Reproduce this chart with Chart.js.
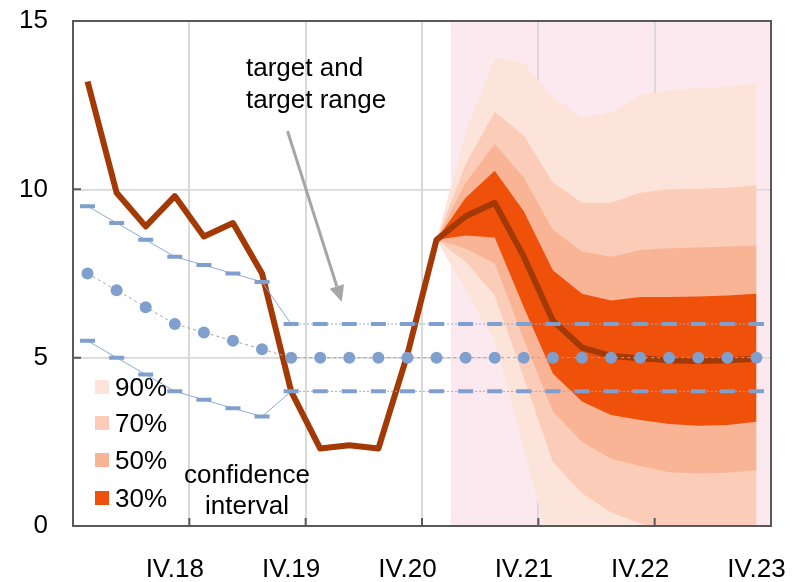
<!DOCTYPE html>
<html>
<head>
<meta charset="utf-8">
<script src="https://cdn.jsdelivr.net/npm/chart.js@4.4.1/dist/chart.umd.min.js"></script>
<style>
  html, body { margin: 0; padding: 0; background: #fff; }
  #wrap { width: 794px; height: 582px; }
</style>
</head>
<body>
<div id="wrap"><canvas id="chart"></canvas></div>
<script>
const quarters = ['I.18', 'II.18', 'III.18', 'IV.18', 'I.19', 'II.19', 'III.19', 'IV.19',
  'I.20', 'II.20', 'III.20', 'IV.20', 'I.21', 'II.21', 'III.21', 'IV.21',
  'I.22', 'II.22', 'III.22', 'IV.22', 'I.23', 'II.23', 'III.23', 'IV.23'];

const inflation = [13.2, 9.9, 8.9, 9.8, 8.6, 9.0, 7.5, 4.0, 2.3, 2.4, 2.3, 5.1,
  8.5, 9.2, 9.6, 8.0, 6.1, 5.3, 5.05, 4.98, 4.92, 4.9, 4.92, 4.97];

const targetUpper = [9.5, 9.0, 8.5, 8.0, 7.75, 7.5, 7.25, 6, 6, 6, 6, 6, 6, 6, 6, 6, 6, 6, 6, 6, 6, 6, 6, 6];
const targetMid = [7.5, 7.0, 6.5, 6.0, 5.75, 5.5, 5.25, 5, 5, 5, 5, 5, 5, 5, 5, 5, 5, 5, 5, 5, 5, 5, 5, 5];
const targetLower = [5.5, 5.0, 4.5, 4.0, 3.75, 3.5, 3.25, 4, 4, 4, 4, 4, 4, 4, 4, 4, 4, 4, 4, 4, 4, 4, 4, 4];

const N = null;
const upper90 = [N, N, N, N, N, N, N, N, N, N, N, N, 8.5, 11.7, 13.9, 13.75, 12.75, 12.15, 12.3, 12.8, 12.95, 13.0, 13.05, 13.15];
const upper70 = [N, N, N, N, N, N, N, N, N, N, N, N, 8.5, 10.75, 12.3, 11.6, 10.2, 9.6, 9.6, 9.9, 10.0, 10.02, 10.05, 10.12];
const upper50 = [N, N, N, N, N, N, N, N, N, N, N, N, 8.5, 10.2, 11.35, 10.35, 8.8, 8.15, 8.0, 8.2, 8.25, 8.27, 8.3, 8.33];
const upper30 = [N, N, N, N, N, N, N, N, N, N, N, N, 8.5, 9.75, 10.55, 9.35, 7.6, 6.9, 6.7, 6.8, 6.8, 6.82, 6.85, 6.9];
const lower30 = [N, N, N, N, N, N, N, N, N, N, N, N, 8.5, 8.63, 8.57, 6.5, 4.53, 3.7, 3.3, 3.15, 3.03, 2.98, 3.0, 3.1];
const lower50 = [N, N, N, N, N, N, N, N, N, N, N, N, 8.5, 8.24, 7.8, 5.55, 3.4, 2.5, 2.0, 1.78, 1.6, 1.56, 1.58, 1.66];
const lower70 = [N, N, N, N, N, N, N, N, N, N, N, N, 8.5, 7.85, 6.85, 4.4, 1.9, 0.97, 0.4, 0.08, -0.2, -0.3, -0.3, -0.25];
const lower90 = [N, N, N, N, N, N, N, N, N, N, N, N, 8.5, 7.0, 5.5, 2.3, -1.0, -2.0, -2.5, -2.8, -3.0, -3.0, -3.0, -3.0];

// forecast horizon shading (full height of the value axis)
const forecastPeriod = [N, N, N, N, N, N, N, N, N, N, N, N, N, 15, 15, 15, 15, 15, 15, 15, 15, 15, 15, 15];

const bandNames = ['90%', '70%', '50%', '30%'];
const bandColors = ['#FDE4DA', '#FBCDB8', '#F9B496', '#EF510B'];

const FONT = '"Liberation Sans", Arial, sans-serif';

const datasets = [
  {
    label: 'target upper', data: targetUpper,
    borderColor: '#8EA9DB', borderWidth: 1,
    segment: { borderDash: c => c.p0DataIndex >= 7 ? [2, 2] : undefined },
    pointStyle: 'line', pointRadius: 7.5, pointBorderWidth: 4, pointBorderColor: '#7F9FCE'
  },
  {
    label: 'target', data: targetMid,
    borderColor: '#A6A6A6', borderWidth: 1, borderDash: [3, 3],
    pointStyle: 'circle', pointRadius: 6, pointBorderWidth: 0, pointBackgroundColor: '#7F9FCE'
  },
  {
    label: 'target lower', data: targetLower,
    borderColor: '#8EA9DB', borderWidth: 1,
    segment: { borderDash: c => c.p0DataIndex >= 7 ? [2, 2] : undefined },
    pointStyle: 'line', pointRadius: 7.5, pointBorderWidth: 4, pointBorderColor: '#7F9FCE'
  },
  {
    label: 'inflation', data: inflation,
    borderColor: '#A33A06', borderWidth: 6, borderJoinStyle: 'round', pointRadius: 0
  }
];

// bands from narrowest (drawn on top) to widest
const bands = [
  [lower30, upper30, 3],
  [lower50, upper50, 2],
  [lower70, upper70, 1],
  [lower90, upper90, 0]
];
bands.forEach(([lo, hi, k]) => {
  datasets.push({ label: bandNames[k] + ' lower', data: lo, borderColor: 'rgba(0,0,0,0)', pointRadius: 0, fill: false });
  datasets.push({ label: bandNames[k], data: hi, borderColor: 'rgba(0,0,0,0)', backgroundColor: bandColors[k], pointRadius: 0, fill: '-1' });
});

datasets.push({
  type: 'bar', label: 'forecast', data: forecastPeriod,
  backgroundColor: '#FCE9EF', borderWidth: 0, barPercentage: 1, categoryPercentage: 1
});
const shadeIndex = datasets.length - 1;

const decor = {
  id: 'decor',
  // grid lines sit above the forecast shading but below the fan
  afterDatasetDraw(chart, args) {
    if (args.index !== shadeIndex) return;
    chart.scales.x.drawGrid(chart.chartArea);
    chart.scales.y.drawGrid(chart.chartArea);
  },
  afterDatasetsDraw(chart) {
    const { ctx, chartArea: a, scales: { x, y } } = chart;
    ctx.save();

    // frame and inside tick marks
    ctx.strokeStyle = '#595959';
    ctx.lineWidth = 2;
    ctx.strokeRect(a.left, a.top, a.right - a.left, a.bottom - a.top);
    ctx.beginPath();
    [5, 10].forEach(v => {
      const py = y.getPixelForValue(v);
      ctx.moveTo(a.left, py); ctx.lineTo(a.left + 8, py);
    });
    for (let i = 4; i < quarters.length; i += 4) {
      const px = (x.getPixelForValue(i - 1) + x.getPixelForValue(i)) / 2;
      ctx.moveTo(px, a.bottom); ctx.lineTo(px, a.bottom - 8);
    }
    ctx.stroke();

    // legend of confidence bands
    ctx.font = '26px ' + FONT;
    ctx.fillStyle = '#000';
    ctx.textBaseline = 'alphabetic';
    ctx.textAlign = 'left';
    const rows = [387, 423, 460, 498];
    bandNames.forEach((name, k) => {
      ctx.fillStyle = bandColors[k];
      ctx.fillRect(95, rows[k] - 7, 14, 14);
      ctx.fillStyle = '#000';
      ctx.fillText(name, 115, rows[k] + 9);
    });
    ctx.textAlign = 'center';
    ctx.fillText('confidence', 247, 483);
    ctx.fillText('interval', 247, 514);

    // target annotation
    ctx.textAlign = 'left';
    ctx.fillText('target and', 246, 76);
    ctx.fillText('target range', 246, 108);

    const x0 = 287.5, y0 = 131, x1 = 341.7, y1 = 301.7;
    const ang = Math.atan2(y1 - y0, x1 - x0);
    const hl = 16, hw = 7.5;
    const bx = x1 - hl * Math.cos(ang), by = y1 - hl * Math.sin(ang);
    ctx.strokeStyle = '#A6A6A6';
    ctx.fillStyle = '#A6A6A6';
    ctx.lineWidth = 3;
    ctx.beginPath();
    ctx.moveTo(x0, y0); ctx.lineTo(bx, by);
    ctx.stroke();
    ctx.beginPath();
    ctx.moveTo(x1, y1);
    ctx.lineTo(bx + hw * Math.sin(ang), by - hw * Math.cos(ang));
    ctx.lineTo(bx - hw * Math.sin(ang), by + hw * Math.cos(ang));
    ctx.closePath();
    ctx.fill();

    ctx.restore();
  }
};

new Chart(document.getElementById('chart'), {
  type: 'line',
  data: { labels: quarters, datasets },
  options: {
    responsive: true,
    maintainAspectRatio: false,
    animation: false,
    events: [],
    layout: { padding: { left: 0, right: 23, top: 21, bottom: 0 } },
    plugins: { legend: { display: false }, tooltip: { enabled: false } },
    scales: {
      x: {
        type: 'category',
        offset: true,
        grid: {
          offset: true, drawTicks: true, tickLength: 28, tickColor: 'rgba(0,0,0,0)', lineWidth: 2,
          color: c => (c.index % 4 === 0 && c.index > 0 && c.index < quarters.length) ? '#D9D9D9' : 'rgba(0,0,0,0)'
        },
        border: { display: false },
        ticks: {
          autoSkip: false, maxRotation: 0, minRotation: 0, padding: 0, color: '#000',
          font: { size: 26, family: FONT },
          callback: (v, i) => i % 4 === 3 ? quarters[i] : ''
        },
        afterFit: s => { s.height = 56; }
      },
      y: {
        min: 0, max: 15,
        grid: {
          drawTicks: true, tickLength: 25, tickColor: 'rgba(0,0,0,0)', lineWidth: 1.5,
          color: c => (c.tick && (c.tick.value === 5 || c.tick.value === 10)) ? '#D9D9D9' : 'rgba(0,0,0,0)'
        },
        border: { display: false },
        ticks: { stepSize: 5, padding: 0, color: '#000', font: { size: 26, family: FONT } },
        afterFit: s => { s.width = 73; }
      }
    }
  },
  plugins: [decor]
});
</script>
</body>
</html>
